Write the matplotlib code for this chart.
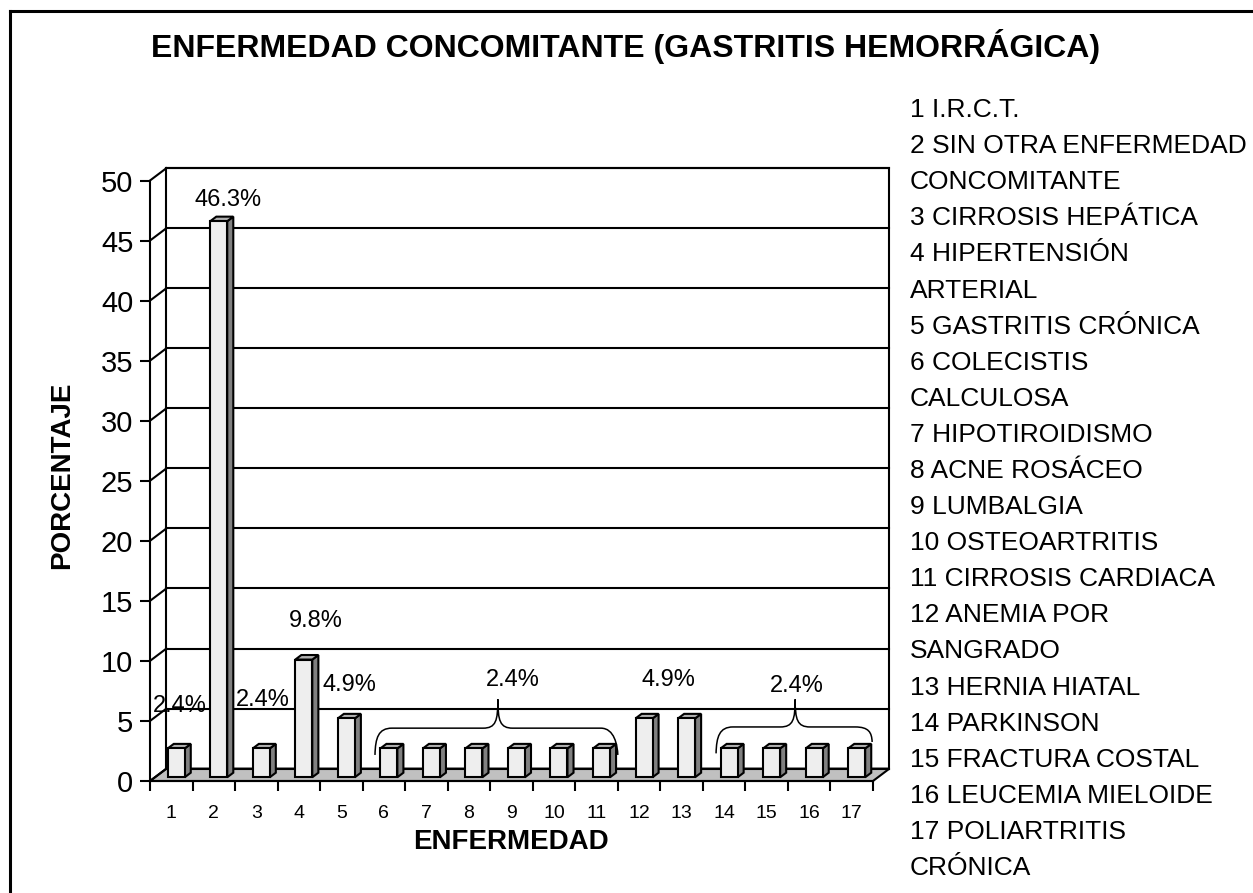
import matplotlib
matplotlib.use("Agg")
import matplotlib.pyplot as plt
from matplotlib.patches import Polygon, PathPatch
from matplotlib.path import Path
from matplotlib.lines import Line2D

plt.rcParams['font.family'] = ['Liberation Sans', 'DejaVu Sans']

# ---------------- data ----------------
categories = [str(i) for i in range(1, 18)]
values = [2.4, 46.3, 2.4, 9.8, 4.9, 2.4, 2.4, 2.4, 2.4, 2.4, 2.4, 4.9, 4.9, 2.4, 2.4, 2.4, 2.4]
yticks = [0, 5, 10, 15, 20, 25, 30, 35, 40, 45, 50]
label_texts = ["2.4%", "46.3%", "2.4%", "9.8%", "4.9%", "2.4%", "4.9%", "2.4%"]
legend_lines = [
    "1 I.R.C.T.", "2 SIN OTRA ENFERMEDAD", "CONCOMITANTE", "3 CIRROSIS HEPÁTICA",
    "4 HIPERTENSIÓN", "ARTERIAL", "5 GASTRITIS CRÓNICA", "6 COLECISTIS", "CALCULOSA",
    "7 HIPOTIROIDISMO", "8 ACNE ROSÁCEO", "9 LUMBALGIA", "10 OSTEOARTRITIS",
    "11 CIRROSIS CARDIACA", "12 ANEMIA POR", "SANGRADO", "13 HERNIA HIATAL",
    "14 PARKINSON", "15 FRACTURA COSTAL", "16 LEUCEMIA MIELOIDE", "17 POLIARTRITIS",
    "CRÓNICA",
]
title = "ENFERMEDAD CONCOMITANTE (GASTRITIS HEMORRÁGICA)"
xlabel = "ENFERMEDAD"
ylabel = "PORCENTAJE"

# ---------------- layout / style ----------------
W, H = 1253, 893
fig = plt.figure(figsize=(W / 100, H / 100), dpi=100)
ax = fig.add_axes([150 / W, (H - 781) / H, 723 / W, 600.5 / H])
n = len(values)
ax.set_xlim(0.5, n + 0.5)
ax.set_ylim(yticks[0], yticks[-1])

DX, DY = 0.386, 1.03          # depth of the 3-D box (x in categories, y in %)
LW = 1.5
col_floor = "#C0C0C0"
col_front = "#EEEEEE"
col_side = "#808080"
col_top = "#B0B0B0"

ymax = yticks[-1]
x0, x1 = 0.5, n + 0.5
# back wall
ax.add_patch(Polygon([(x0 + DX, DY), (x1 + DX, DY), (x1 + DX, ymax + DY), (x0 + DX, ymax + DY)],
                     closed=True, facecolor="white", edgecolor="black", lw=LW, clip_on=False, zorder=0.5))
# floor
ax.add_patch(Polygon([(x0, 0), (x1, 0), (x1 + DX, DY), (x0 + DX, DY)],
                     closed=True, facecolor=col_floor, edgecolor="black", lw=LW, clip_on=False, zorder=0.6))
# gridlines on back wall and side wall diagonals
for v in yticks:
    ax.add_line(Line2D([x0 + DX, x1 + DX], [v + DY, v + DY], color="black", lw=LW, clip_on=False, zorder=0.7))
    ax.add_line(Line2D([x0, x0 + DX], [v, v + DY], color="black", lw=LW, clip_on=False, zorder=0.7))

# bars (3-D look)
f0, fd = 0.30, 0.37   # depth position of bar front and bar depth (fraction of DX/DY)
half = 0.2
for i, v in enumerate(values):
    xc = i + 1
    bx0 = xc - half + f0 * DX
    bx1 = xc + half + f0 * DX
    by0 = f0 * DY
    by1 = v + f0 * DY
    ddx, ddy = fd * DX, fd * DY
    front = Polygon([(bx0, by0), (bx1, by0), (bx1, by1), (bx0, by1)], closed=True,
                    facecolor=col_front, edgecolor="black", lw=LW, clip_on=False, zorder=3)
    side = Polygon([(bx1, by0), (bx1 + ddx, by0 + ddy), (bx1 + ddx, by1 + ddy), (bx1, by1)], closed=True,
                   facecolor=col_side, edgecolor="black", lw=LW, clip_on=False, zorder=3)
    top = Polygon([(bx0, by1), (bx1, by1), (bx1 + ddx, by1 + ddy), (bx0 + ddx, by1 + ddy)], closed=True,
                  facecolor=col_top, edgecolor="black", lw=LW, clip_on=False, zorder=3)
    for p in (side, top, front):
        ax.add_patch(p)

# axes / ticks
for s in ("top", "right"):
    ax.spines[s].set_visible(False)
for s in ("left", "bottom"):
    ax.spines[s].set_linewidth(LW)
    ax.spines[s].set_zorder(4)
ax.set_facecolor("none")
ax.set_yticks(yticks)
ax.set_yticklabels([str(t) for t in yticks], fontsize=21)
ax.tick_params(axis="y", direction="out", length=7, width=LW, pad=5)
ax.set_xticks([k + 0.5 for k in range(0, n + 1)])
ax.set_xticklabels([])
ax.set_xticks(range(1, n + 1), minor=True)
ax.set_xticklabels(categories, minor=True, fontsize=14)
ax.tick_params(axis="x", which="major", direction="out", length=7, width=LW)
ax.tick_params(axis="x", which="minor", length=0, pad=17)

# data labels
label_pos = [(1.2, 6.25), (2.33, 48.4), (3.16, 6.75), (4.4, 13.3), (5.2, 8.0),
             (9.04, 8.4), (12.7, 8.4), (15.71, 7.9)]
for txt, (lx, ly) in zip(label_texts, label_pos):
    ax.text(lx, ly, txt, ha="center", va="center", fontsize=17, zorder=5, clip_on=False)

# braces grouping equal bars
def brace(xa, xb, xp, yl, yr, ym, yp):
    verts = [(xa, yl),
             (xa + 0.01, ym - 0.8), (xa + 0.08, ym), (xa + 0.4, ym),
             (xp - 0.35, ym),
             (xp - 0.05, ym), (xp, ym + 0.6), (xp, yp),
             (xp, ym + 0.6), (xp + 0.05, ym), (xp + 0.35, ym),
             (xb - 0.4, ym),
             (xb - 0.08, ym), (xb - 0.01, yr + 0.8), (xb, yr)]
    codes = [Path.MOVETO] + [Path.CURVE4] * 3 + [Path.LINETO] + [Path.CURVE4] * 6 + [Path.LINETO] + [Path.CURVE4] * 3
    ax.add_patch(PathPatch(Path(verts, codes), facecolor="none", edgecolor="black", lw=1.1,
                           clip_on=False, zorder=5))

brace(5.79, 11.5, 8.68, 2.17, 2.17, 4.4, 6.8)
brace(13.81, 17.48, 15.67, 2.3, 3.25, 4.5, 6.8)

# titles and labels
fig.text(626 / W, 1 - 47 / H, title, ha="center", va="center", fontsize=23, fontweight="bold")
fig.text(511 / W, 1 - 842 / H, xlabel, ha="center", va="center", fontsize=20, fontweight="bold")
fig.text(62 / W, 1 - 475 / H, ylabel, ha="center", va="center", fontsize=20, fontweight="bold", rotation=90)

# category legend on the right
for k, line in enumerate(legend_lines):
    fig.text(910 / W, 1 - (110 + 36.1 * k) / H, line, ha="left", va="center", fontsize=19)

# outer frame (only top and left edges are visible)
fig.add_artist(Line2D([10 / W, 1.0], [1 - 11 / H, 1 - 11 / H], color="black", lw=2.2, transform=fig.transFigure))
fig.add_artist(Line2D([10 / W, 10 / W], [0, 1 - 11 / H], color="black", lw=2.2, transform=fig.transFigure))

fig.savefig("out.png", dpi=100)
